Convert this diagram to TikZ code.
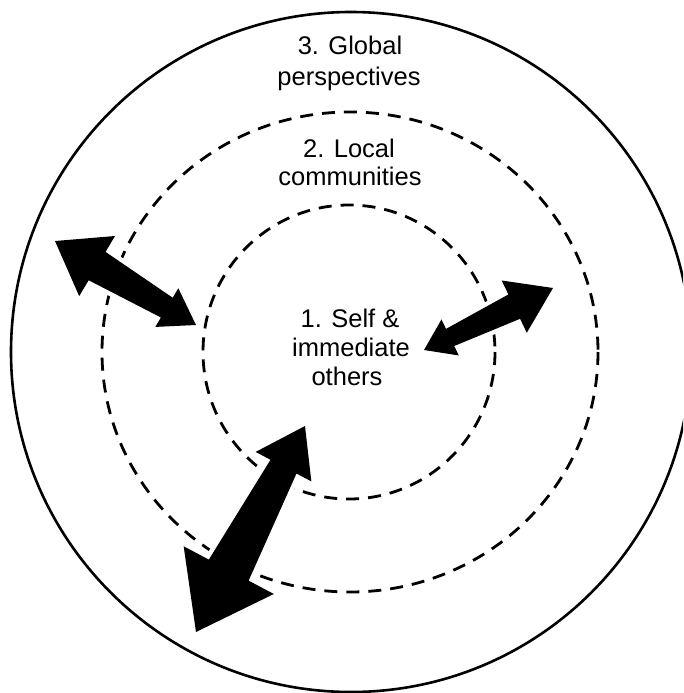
\documentclass[tikz,border=0pt]{standalone}
\usepackage{fontspec}
\setmainfont{Liberation Sans}
\usetikzlibrary{calc}
\tikzset{
  ring/.style={line width=2.8pt, dash pattern=on 13pt off 9pt},
  outerring/.style={line width=2.6pt},
  lbl/.style={inner sep=0pt, font=\fontsize{25.5}{29}\selectfont, anchor=base},
  blockarrow/.style={fill=black, preaction={draw=white, line width=9pt, line join=miter}}
}
% #1 tip A, #2 tip B, #3 head length A, #4 head half width A, #5 shaft half width A,
% #6 head length B, #7 head half width B, #8 shaft half width B
\newcommand{\DblArrow}[8]{%
  \path[blockarrow]
    (#1)
    -- ($($(#1)!#3!(#2)$)!#4!90:(#2)$)
    -- ($($(#1)!#3!(#2)$)!#5!90:(#2)$)
    -- ($($(#2)!#6!(#1)$)!#8!-90:(#1)$)
    -- ($($(#2)!#6!(#1)$)!#7!-90:(#1)$)
    -- (#2)
    -- ($($(#2)!#6!(#1)$)!#7!90:(#1)$)
    -- ($($(#2)!#6!(#1)$)!#8!90:(#1)$)
    -- ($($(#1)!#3!(#2)$)!#5!-90:(#2)$)
    -- ($($(#1)!#3!(#2)$)!#4!-90:(#2)$)
    -- cycle;}
\begin{document}
\begin{tikzpicture}[x=1pt,y=-1pt]
  \fill[white] (0,0) rectangle (683,693);
  \useasboundingbox (0,0) rectangle (683,693);
  \begin{scope}
    \clip (0,0) rectangle (683,693);
    \draw[outerring] (351,352) ellipse [x radius=340, y radius=340];
  \end{scope}
  \draw[ring] (350,352) ellipse [x radius=248, y radius=240];
  \draw[ring] (349,352) ellipse [x radius=146, y radius=147];

  \node[lbl] (t3a) at (350,55) {3. Global};
  \node[lbl] (t3b) at (349,85) {perspectives};
  \node[lbl] (t2a) at (349,157) {2. Local};
  \node[lbl] (t2b) at (350,185) {communities};
  \node[lbl] (t1a) at (350,327) {1. Self \&};
  \node[lbl] (t1b) at (351,356) {immediate};
  \node[lbl] (t1c) at (347,385) {others};

  \coordinate (la) at (55,241);
  \coordinate (lb) at (196,325);
  \coordinate (ra) at (553,288);
  \coordinate (rb) at (424,350);
  \coordinate (ba) at (196,632);
  \coordinate (bb) at (305,426);

  \DblArrow{la}{lb}{49pt}{35pt}{16.5pt}{34pt}{22.5pt}{11.5pt}
  \DblArrow{ra}{rb}{43pt}{29pt}{13.5pt}{29pt}{20pt}{9.5pt}
  \DblArrow{ba}{bb}{70pt}{51pt}{22.5pt}{46pt}{31.5pt}{14.7pt}
\end{tikzpicture}
\end{document}
